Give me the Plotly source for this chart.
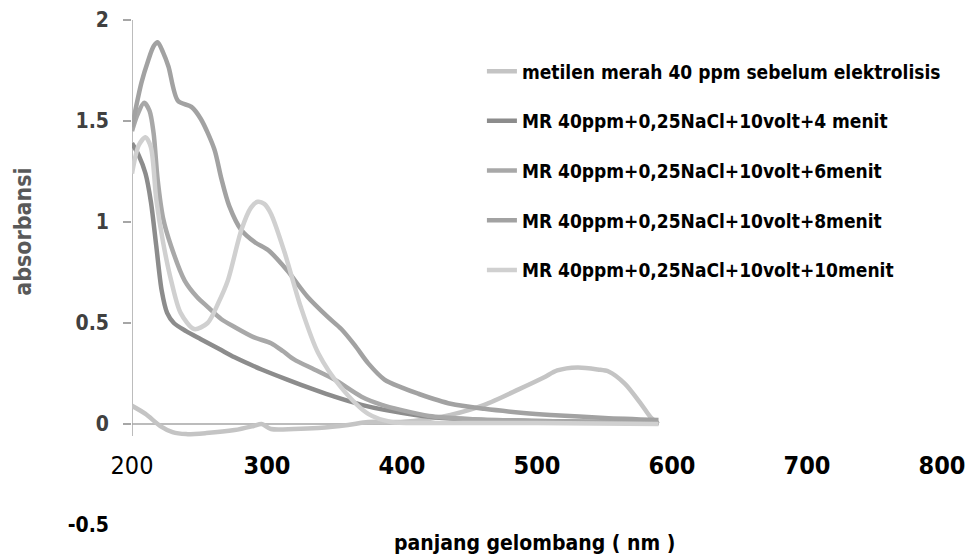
import plotly.graph_objects as go

# ---- data ----
wl_sebelum = [200, 210, 221, 230, 240, 255, 276, 290, 296, 303, 320, 338, 360, 375, 399, 420, 436, 461, 486, 505, 515, 530, 545, 553, 565, 577, 584, 590]
abs_sebelum = [0.09, 0.05, -0.01, -0.04, -0.05, -0.045, -0.03, -0.01, 0.0, -0.025, -0.025, -0.02, -0.005, 0.01, 0.01, 0.025, 0.045, 0.095, 0.17, 0.23, 0.265, 0.28, 0.27, 0.26, 0.2, 0.1, 0.035, 0.0]

wl_4 = [200, 205, 210, 214, 218, 222, 226, 231, 240, 251, 265, 276, 296, 315, 335, 350, 370, 387, 410, 430, 460, 500, 550, 590]
abs_4 = [1.39, 1.33, 1.24, 1.1, 0.88, 0.66, 0.55, 0.5, 0.46, 0.42, 0.37, 0.33, 0.27, 0.22, 0.17, 0.135, 0.095, 0.07, 0.045, 0.03, 0.02, 0.015, 0.01, 0.005]

wl_6 = [200, 204, 209, 213, 216, 219, 223, 229, 239, 248, 256, 266, 276, 290, 303, 312, 320, 335, 350, 370, 385, 399, 420, 450, 500, 550, 590]
abs_6 = [1.45, 1.53, 1.59, 1.55, 1.44, 1.21, 1.02, 0.88, 0.71, 0.63, 0.58, 0.52, 0.48, 0.43, 0.40, 0.36, 0.32, 0.27, 0.22, 0.135, 0.095, 0.07, 0.04, 0.025, 0.015, 0.01, 0.005]

wl_8 = [200, 207, 212, 216, 219, 223, 227, 234, 244, 251, 261, 266, 272, 281, 291, 301, 315, 330, 345, 355, 365, 375, 387, 400, 412, 436, 461, 490, 510, 550, 590]
abs_8 = [1.47, 1.69, 1.8, 1.87, 1.89, 1.84, 1.77, 1.6, 1.57, 1.51, 1.36, 1.22, 1.08, 0.96, 0.9, 0.86, 0.76, 0.63, 0.53, 0.47, 0.39, 0.30, 0.22, 0.18, 0.15, 0.10, 0.075, 0.055, 0.045, 0.03, 0.02]

wl_10 = [200, 205, 210, 214, 218, 223, 229, 236, 246, 256, 264, 271, 281, 288, 293, 298, 303, 313, 325, 338, 355, 375, 392, 420, 500, 590]
abs_10 = [1.24, 1.38, 1.42, 1.37, 1.11, 0.9, 0.71, 0.55, 0.47, 0.50, 0.6, 0.71, 0.96, 1.07, 1.1, 1.09, 1.04, 0.85, 0.58, 0.35, 0.18, 0.05, 0.01, 0.005, 0.005, 0.0]

series_names = [
    "metilen merah 40 ppm sebelum elektrolisis",
    "MR 40ppm+0,25NaCl+10volt+4 menit",
    "MR 40ppm+0,25NaCl+10volt+6menit",
    "MR 40ppm+0,25NaCl+10volt+8menit",
    "MR 40ppm+0,25NaCl+10volt+10menit",
]
series_x = [wl_sebelum, wl_4, wl_6, wl_8, wl_10]
series_y = [abs_sebelum, abs_4, abs_6, abs_8, abs_10]
series_colors = ["#c4c4c4", "#8c8c8c", "#a8a8a8", "#a2a2a2", "#d0d0d0"]

x_tickvals = [200, 300, 400, 500, 600, 700, 800]
x_ticktext = ["200", "<b>300</b>", "<b>400</b>", "<b>500</b>", "<b>600</b>", "<b>700</b>", "<b>800</b>"]
y_tickvals = [-0.5, 0, 0.5, 1, 1.5, 2]
y_ticktext = ["<span style='color:#000000'>-0.5</span>", "0", "0.5", "1", "1.5", "2"]
y_minor_ticks = [0, 0.5, 1, 1.5, 2]

FONT = "DejaVu Sans Condensed, DejaVu Sans, sans-serif"

fig = go.Figure()
for i, (nm, xs, ys, c) in enumerate(zip(series_names, series_x, series_y, series_colors)):
    fig.add_trace(go.Scatter(
        x=xs, y=ys, name=nm, mode="lines",
        line=dict(color=c, width=4.5, shape="spline", smoothing=0.8),
        legendgroup=f"g{i}",
    ))

# axis lines (y axis from the crossing up to 2, zero line to the end of the data)
fig.add_shape(type="line", xref="x", yref="y", x0=200, x1=200, y0=-0.06, y1=2,
              line=dict(color="#a6a6a6", width=1.5), layer="below")
fig.add_shape(type="line", xref="x", yref="y", x0=200, x1=590, y0=0, y1=0,
              line=dict(color="#a6a6a6", width=1.5), layer="below")

fig.update_layout(
    width=967, height=556,
    margin=dict(l=132, r=25, t=20, b=31, autoexpand=False),
    paper_bgcolor="white", plot_bgcolor="white",
    font=dict(family=FONT, color="#000000"),
    showlegend=True,
    legend=dict(
        x=0.432, y=0.936, xanchor="left", yanchor="top",
        font=dict(family=FONT, size=19, color="#000000", weight="bold"),
        tracegroupgap=22, bgcolor="rgba(0,0,0,0)",
        traceorder="grouped",
    ),
    xaxis=dict(
        range=[200, 800], anchor="free", position=0.2, automargin=False,
        tickmode="array", tickvals=x_tickvals, ticktext=x_ticktext,
        ticks="", showline=False, showgrid=False, zeroline=False,
        tickfont=dict(family=FONT, size=25, color="#000000"),
        ticklabelstandoff=24,
    ),
    yaxis=dict(
        range=[-0.5, 2], automargin=False,
        tickmode="array", tickvals=y_tickvals, ticktext=y_ticktext,
        ticks="", showline=False, showgrid=False, zeroline=False,
        tickfont=dict(family=FONT, size=21, color="#404040", weight="bold"),
        ticklabelstandoff=22,
        minor=dict(tickmode="array", tickvals=y_minor_ticks, ticks="outside",
                   ticklen=8, tickcolor="#a6a6a6", tickwidth=1.5, showgrid=False),
    ),
    annotations=[
        dict(text="absorbansi", xref="paper", yref="paper",
             x=-0.135, y=0.58, xanchor="center", yanchor="middle",
             textangle=-90, showarrow=False,
             font=dict(family=FONT, size=23, color="#595959", weight="bold")),
        dict(text="panjang gelombang ( nm )", xref="paper", yref="paper",
             x=0.497, y=-0.036, xanchor="center", yanchor="middle",
             showarrow=False,
             font=dict(family=FONT, size=21, color="#000000", weight="bold")),
    ],
)

fig.write_html("out.html")
